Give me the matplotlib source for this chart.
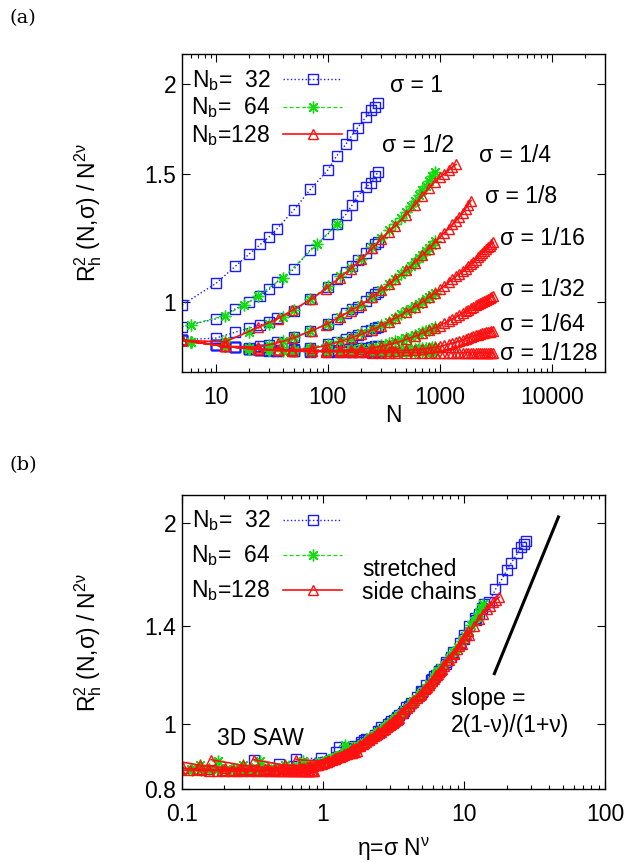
import numpy as np
import matplotlib.pyplot as plt
from matplotlib.lines import Line2D
from matplotlib.ticker import FixedLocator, FixedFormatter, NullLocator, LogLocator

plt.rcParams['font.family'] = ['Liberation Sans', 'DejaVu Sans']
plt.rcParams['mathtext.fontset'] = 'custom'
plt.rcParams['mathtext.rm'] = 'Liberation Sans'
plt.rcParams['mathtext.it'] = 'Liberation Sans'
plt.rcParams['mathtext.sf'] = 'Liberation Sans'

nu = 0.588
FS = 16.5

# side chain lengths N for each backbone length Nb
N32 = [5, 10, 15, 20, 25, 30, 35, 50, 70, 100, 120, 145, 165, 185, 220, 245, 265, 280]
N64_half = [6, 12, 18, 24, 40, 80, 120]
N64 = [6, 12, 20, 30, 40, 50, 70, 100, 130, 160, 200, 250, 300, 350, 400, 450, 500,
       550, 600, 650, 700, 750, 800, 850, 900]
N128 = [5, 12, 24, 36, 48, 72, 96, 128, 160, 200, 250, 300, 350, 400, 500, 600, 700,
        800, 900, 1000, 1100, 1200, 1300, 1400, 1500, 1600, 1700, 1800, 1900, 2000,
        2100, 2200, 2300, 2400, 2500, 2600, 2700, 2800, 2900, 3000]

# Nb = 32
b_1 = [0.99, 1.06, 1.12, 1.165, 1.20, 1.23, 1.26, 1.34, 1.43, 1.52, 1.59, 1.65, 1.70, 1.74, 1.80, 1.84, 1.86, 1.88]
b_2 = [0.924, 0.947, 0.978, 1.0, 1.02, 1.04, 1.065, 1.11, 1.18, 1.24, 1.28, 1.32, 1.36, 1.40, 1.44, 1.46, 1.49, 1.51]
b_4 = [0.886, 0.891, 0.908, 0.92, 0.929, 0.939, 0.949, 0.97, 1.01, 1.047, 1.076, 1.099, 1.119, 1.143, 1.168, 1.186, 1.20, 1.21]
b_8 = [0.885, 0.872, 0.865, 0.863, 0.868, 0.873, 0.879, 0.893, 0.911, 0.933, 0.947, 0.965, 0.976, 0.985, 1.004, 1.016, 1.025, 1.031]
b_16 = [0.885, 0.872, 0.865, 0.86, 0.858, 0.858, 0.858, 0.86, 0.864, 0.874, 0.881, 0.889, 0.894, 0.9, 0.91, 0.914, 0.919, 0.922]
b_32 = [0.885, 0.872, 0.865, 0.86, 0.858, 0.858, 0.858, 0.858, 0.858, 0.858, 0.859, 0.86, 0.861, 0.862, 0.864, 0.866, 0.868, 0.87]
b_64 = [0.885, 0.872, 0.865, 0.86, 0.858, 0.857, 0.856, 0.856, 0.855, 0.855, 0.855, 0.855, 0.855, 0.855, 0.855, 0.855, 0.855, 0.855]
b_128 = [0.885, 0.872, 0.865, 0.86, 0.857, 0.856, 0.855, 0.854, 0.853, 0.853, 0.853, 0.853, 0.852, 0.852, 0.852, 0.852, 0.852, 0.852]

# Nb = 64
g_2 = [0.93, 0.957, 0.99, 1.02, 1.08, 1.20, 1.28]
g_4 = [0.88, 0.883, 0.908, 0.932, 0.954, 0.975, 1.008, 1.05, 1.084, 1.113, 1.146, 1.191, 1.225,
       1.255, 1.28, 1.305, 1.33, 1.355, 1.38, 1.405, 1.425, 1.447, 1.468, 1.49, 1.51]
g_8 = [0.88, 0.868, 0.863, 0.873, 0.884, 0.893, 0.911, 0.933, 0.954, 0.973, 0.991, 1.015, 1.038,
       1.057, 1.075, 1.092, 1.106, 1.12, 1.134, 1.148, 1.161, 1.174, 1.187, 1.199, 1.212]
g_16 = [0.88, 0.868, 0.86, 0.858, 0.858, 0.859, 0.864, 0.875, 0.884, 0.892, 0.905, 0.916, 0.928,
        0.938, 0.951, 0.961, 0.97, 0.978, 0.986, 0.993, 1.0, 1.008, 1.015, 1.022, 1.029]
g_32 = [0.88, 0.868, 0.86, 0.858, 0.858, 0.858, 0.858, 0.858, 0.858, 0.86, 0.862, 0.866, 0.871,
        0.876, 0.882, 0.886, 0.89, 0.895, 0.9, 0.904, 0.908, 0.912, 0.915, 0.918, 0.922]
g_64 = [0.88, 0.868, 0.86, 0.858, 0.857, 0.857, 0.856, 0.856, 0.856, 0.856, 0.856, 0.857, 0.857,
        0.858, 0.858, 0.859, 0.86, 0.86, 0.861, 0.862, 0.862, 0.863, 0.864, 0.865, 0.866]
g_128 = [0.88, 0.868, 0.86, 0.857, 0.856, 0.855, 0.855, 0.854, 0.854, 0.854, 0.854, 0.853, 0.853,
         0.853, 0.853, 0.853, 0.853, 0.853, 0.853, 0.853, 0.853, 0.853, 0.853, 0.853, 0.853]

# Nb = 128
r_4 = [0.885, 0.88, 0.922, 0.948, 0.973, 1.009, 1.042, 1.08, 1.11, 1.145, 1.185, 1.22, 1.248,
       1.272, 1.318, 1.36, 1.40, 1.435, 1.463, 1.485, 1.503, 1.52, 1.535, 1.548]
r_8 = [0.885, 0.868, 0.866, 0.878, 0.89, 0.912, 0.93, 0.953, 0.972, 0.99, 1.016, 1.038, 1.057,
       1.075, 1.105, 1.133, 1.16, 1.183, 1.205, 1.228, 1.246, 1.262, 1.279, 1.294, 1.31, 1.327,
       1.345, 1.362, 1.38]
r_16 = [0.885, 0.868, 0.86, 0.858, 0.858, 0.862, 0.87, 0.881, 0.891, 0.902, 0.915, 0.927, 0.938,
        0.949, 0.968, 0.984, 0.999, 1.014, 1.027, 1.04, 1.052, 1.064, 1.075, 1.085, 1.094, 1.103,
        1.111, 1.12, 1.128, 1.136, 1.144, 1.152, 1.16, 1.168, 1.176, 1.183, 1.19, 1.196, 1.202, 1.208]
r_32 = [0.885, 0.868, 0.86, 0.858, 0.857, 0.856, 0.856, 0.857, 0.858, 0.86, 0.864, 0.868, 0.873,
        0.877, 0.887, 0.896, 0.905, 0.913, 0.92, 0.927, 0.934, 0.941, 0.947, 0.953, 0.959, 0.965,
        0.97, 0.975, 0.98, 0.985, 0.989, 0.993, 0.997, 1.0, 1.003, 1.007, 1.01, 1.013, 1.017, 1.02]
r_64 = [0.885, 0.868, 0.86, 0.857, 0.856, 0.855, 0.855, 0.855, 0.855, 0.855, 0.855, 0.855, 0.856,
        0.856, 0.857, 0.859, 0.861, 0.863, 0.865, 0.868, 0.871, 0.874, 0.877, 0.88, 0.883, 0.886,
        0.889, 0.892, 0.894, 0.897, 0.899, 0.901, 0.903, 0.905, 0.906, 0.907, 0.908, 0.909, 0.91, 0.911]
r_128 = [0.885, 0.868, 0.86, 0.857, 0.855, 0.854, 0.853, 0.853, 0.852, 0.852, 0.851, 0.851, 0.851,
         0.851, 0.851, 0.851, 0.851, 0.851, 0.851, 0.851, 0.851, 0.851, 0.851, 0.851, 0.851, 0.851,
         0.851, 0.851, 0.851, 0.851, 0.851, 0.851, 0.851, 0.851, 0.851, 0.85, 0.85, 0.85, 0.85, 0.85]

sigma_labels = ["1", "1/2", "1/4", "1/8", "1/16", "1/32", "1/64", "1/128"]
sigma_label_N = [360, 305, 2230, 2560, 3480, 3480, 3480, 3480]
sigma_label_y = [1.99, 1.643, 1.591, 1.398, 1.224, 1.039, 0.929, 0.849]

# slope guide in panel (b)
slope_eta = [16.4, 46.7]
slope_y = [1.19, 2.04]

blue_sets = [(1, N32, b_1), (1/2, N32, b_2), (1/4, N32, b_4), (1/8, N32, b_8),
             (1/16, N32, b_16), (1/32, N32, b_32), (1/64, N32, b_64), (1/128, N32, b_128)]
green_sets = [(1/2, N64_half, g_2), (1/4, N64, g_4), (1/8, N64, g_8), (1/16, N64, g_16),
              (1/32, N64, g_32), (1/64, N64, g_64), (1/128, N64, g_128)]
red_sets = [(1/4, N128, r_4), (1/8, N128, r_8), (1/16, N128, r_16), (1/32, N128, r_32),
            (1/64, N128, r_64), (1/128, N128, r_128)]

BLUE = '#1a1aff'
GREEN = '#11dd11'
RED = '#ff1010'
asterisk = (8, 2, 0)
MS = 7.5

fig = plt.figure(figsize=(6.41, 8.63), dpi=100)
ax1 = fig.add_axes([0.284, 0.569, 0.66, 0.3685])
ax2 = fig.add_axes([0.284, 0.0857, 0.66, 0.3407])


def draw(ax, scaled, blues, lspace):
    for s, n, y in blues:
        n = np.array(n[:len(y)], dtype=float)
        x = s * n ** nu if scaled else n
        ax.plot(x, y, ls=':', lw=1.0, color=BLUE, marker='s', ms=MS, mfc='none', mew=1.0)
    for s, n, y in green_sets:
        n = np.array(n[:len(y)], dtype=float)
        x = s * n ** nu if scaled else n
        ax.plot(x, y, ls='--', dashes=(3, 2), lw=0.9, color=GREEN, marker=asterisk, ms=MS + 1, mew=1.0)
    for s, n, y in red_sets:
        n = np.array(n[:len(y)], dtype=float)
        x = s * n ** nu if scaled else n
        ax.plot(x, y, ls='-', lw=1.2, color=RED, marker='^', ms=MS, mfc='none', mew=1.0)

    handles = [
        Line2D([], [], ls=':', lw=1.0, color=BLUE, marker='s', ms=MS, mfc='none'),
        Line2D([], [], ls='--', dashes=(3, 2), lw=0.9, color=GREEN, marker=asterisk, ms=MS + 1),
        Line2D([], [], ls='-', lw=1.2, color=RED, marker='^', ms=MS, mfc='none'),
    ]
    labels = ["N$_{\\mathrm{b}}$=  32", "N$_{\\mathrm{b}}$=  64", "N$_{\\mathrm{b}}$=128"]
    ax.legend(handles, labels, loc='upper left', frameon=False, markerfirst=False,
              handlelength=2.6, handletextpad=0.55, labelspacing=lspace, fontsize=FS,
              borderaxespad=0.1, borderpad=0.3, bbox_to_anchor=(0.0, 0.985), numpoints=1)

    ax.set_yscale('log')
    ax.set_xscale('log')
    ax.set_ylim(0.8, 2.2)
    ax.yaxis.set_minor_locator(NullLocator())
    ax.xaxis.set_minor_locator(LogLocator(base=10, subs=np.arange(2, 10)))
    ax.tick_params(which='both', direction='in', top=True, right=True, labelsize=FS)
    ax.tick_params(which='major', length=6, width=0.8)
    ax.tick_params(which='minor', length=3, width=0.8)
    ax.tick_params(axis='x', which='major', pad=10)
    ax.tick_params(axis='y', which='major', pad=4)
    for sp in ax.spines.values():
        sp.set_linewidth(1.0)
    ax.set_ylabel("R$_{\\mathrm{h}}^{\\mathrm{2}}$ (N,σ) / N$^{\\mathrm{2ν}}$", fontsize=FS)
    ax.yaxis.set_label_coords(-0.185, 0.5)


draw(ax1, False, blue_sets, 0.12)
ax1.set_xlim(5, 30000)
ax1.xaxis.set_major_locator(FixedLocator([10, 100, 1000, 10000]))
ax1.xaxis.set_major_formatter(FixedFormatter(["10", "100", "1000", "10000"]))
ax1.yaxis.set_major_locator(FixedLocator([1, 1.5, 2]))
ax1.yaxis.set_major_formatter(FixedFormatter(["1", "1.5", "2"]))
ax1.set_xlabel("N", fontsize=FS)
ax1.xaxis.set_label_coords(0.5, -0.1)
for lab, xn, yv in zip(sigma_labels, sigma_label_N, sigma_label_y):
    ax1.text(xn, yv, "σ = " + lab, fontsize=FS, ha='left', va='center')

draw(ax2, True, blue_sets[:4], 0.44)
ax2.plot(slope_eta, slope_y, color='black', lw=2.2)
ax2.set_xlim(0.1, 100)
ax2.xaxis.set_major_locator(FixedLocator([0.1, 1, 10, 100]))
ax2.xaxis.set_major_formatter(FixedFormatter(["0.1", "1", "10", "100"]))
ax2.yaxis.set_major_locator(FixedLocator([0.8, 1, 1.4, 2]))
ax2.yaxis.set_major_formatter(FixedFormatter(["0.8", "1", "1.4", "2"]))
ax2.set_xlabel("η=σ N$^{\\mathrm{ν}}$", fontsize=FS)
ax2.xaxis.set_label_coords(0.5, -0.16)
ax2.text(1.9, 1.70, "stretched", fontsize=FS, ha='left', va='center')
ax2.text(1.9, 1.575, "side chains", fontsize=FS, ha='left', va='center')
ax2.text(8.1, 1.092, "slope =", fontsize=FS, ha='left', va='center')
ax2.text(8.1, 0.997, "2(1-ν)/(1+ν)", fontsize=FS, ha='left', va='center')
ax2.text(0.177, 0.952, "3D SAW", fontsize=FS, ha='left', va='center')

fig.text(0.015, 0.979, "(a)", fontsize=14, family='DejaVu Serif', ha='left', va='center')
fig.text(0.015, 0.461, "(b)", fontsize=14, family='DejaVu Serif', ha='left', va='center')

fig.savefig("out.png", dpi=100)
